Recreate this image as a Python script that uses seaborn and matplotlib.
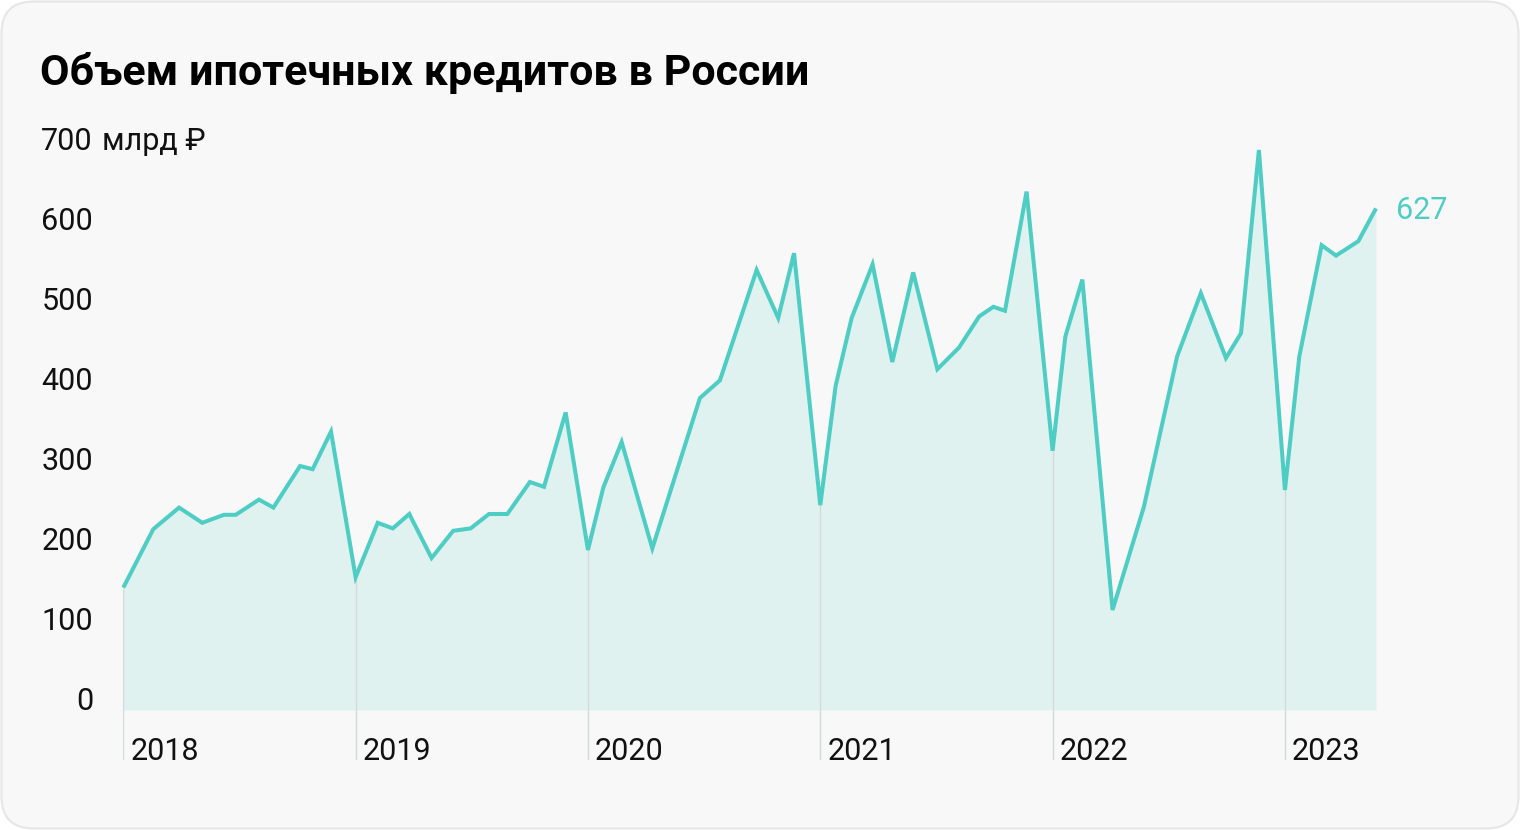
import matplotlib
matplotlib.use("Agg")
import matplotlib.pyplot as plt
from matplotlib.patches import FancyBboxPatch
from matplotlib.transforms import IdentityTransform
import seaborn as sns
import numpy as np

# ---- data ----
time_pos = [2018.000, 2018.129, 2018.240, 2018.340, 2018.433, 2018.484, 2018.584, 2018.646,
            2018.761, 2018.815, 2018.894, 2019.000, 2019.095, 2019.160, 2019.231, 2019.327,
            2019.420, 2019.495, 2019.574, 2019.653, 2019.750, 2019.811, 2019.904, 2020.000,
            2020.066, 2020.145, 2020.277, 2020.482, 2020.568, 2020.726, 2020.819, 2020.887,
            2021.000, 2021.066, 2021.135, 2021.225, 2021.310, 2021.400, 2021.504, 2021.597,
            2021.684, 2021.745, 2021.795, 2021.888, 2022.000, 2022.055, 2022.128, 2022.258,
            2022.393, 2022.536, 2022.638, 2022.746, 2022.811, 2022.888, 2023.000, 2023.062,
            2023.158, 2023.220, 2023.316, 2023.392]
volume = [153, 226, 253, 234, 244, 244, 263, 253, 305, 301, 348, 166, 234, 227, 245, 190,
          224, 227, 245, 245, 285, 279, 372, 200, 278, 335, 202, 390, 412, 550, 490, 571,
          256, 405, 490, 557, 435, 547, 426, 453, 492, 504, 499, 648, 324, 467, 538, 125,
          254, 442, 521, 440, 471, 700, 275, 442, 581, 568, 586, 627]
years = [2018, 2019, 2020, 2021, 2022, 2023]
y_ticks = [0, 100, 200, 300, 400, 500, 600, 700]
y_tick_labels = ["0", "100", "200", "300", "400", "500", "600", "700"]
y_unit = "млрд ₽"
title = "Объем ипотечных кредитов в России"
last_label = "627"

LINE = "#4ecdc4"
FILL = "#e0f2f0"
GRID = "#d3dada"

sns.set_theme(style="white")
plt.rcParams["font.family"] = ["Roboto", "DejaVu Sans"]

W, H, DPI = 1520, 830, 100
fig = plt.figure(figsize=(W / DPI, H / DPI), dpi=DPI, facecolor="white")

card = FancyBboxPatch((1.5, 1.5), W - 3, H - 3,
                      boxstyle="round,pad=0,rounding_size=32",
                      transform=IdentityTransform(), fc="#f8f8f8", ec="#e6e6e6", lw=1.5,
                      zorder=-10)
fig.patches.append(card)

left_px, right_px, top_px, bottom_px = 123.3, 1376.0, 150.0, 760.0
ax = fig.add_axes([left_px / W, 1 - bottom_px / H, (right_px - left_px) / W,
                   (bottom_px - top_px) / H])
ax.set_facecolor("none")
ax.set_zorder(5)

x = np.array(time_pos)
y = np.array(volume, dtype=float)

ax.fill_between(x, 0, y, color=FILL, lw=0, zorder=1)

y_bottom = -62.5
for yr in years:
    top = np.interp(yr, x, y)
    ax.plot([yr, yr], [y_bottom, top], color=GRID, lw=1.0, zorder=2, solid_capstyle="butt")
    ax.annotate(str(yr), xy=(yr, y_bottom), xytext=(7, 0), textcoords="offset pixels",
                ha="left", va="baseline", fontsize=22, color="#111111")

sns.lineplot(x=x, y=y, ax=ax, color=LINE, linewidth=2.9, zorder=3, sort=False)
for ln in ax.lines[-1:]:
    ln.set_solid_joinstyle("miter")
    ln.set_solid_capstyle("butt")
    ln.set_clip_on(False)

ax.annotate(last_label, xy=(x[-1], y[-1]), xytext=(20, -11), textcoords="offset pixels",
            ha="left", va="baseline", fontsize=22, color=LINE)

ax.set_xlim(2018.0, time_pos[-1])
ax.set_ylim(y_bottom, 700)
ax.set_yticks(y_ticks)
ax.set_yticklabels(y_tick_labels)
ax.set_xticks([])
ax.tick_params(axis="y", length=0, pad=(left_px - 93) * 72 / DPI, labelsize=22,
               labelcolor="#111111")
for lab in ax.get_yticklabels():
    lab.set_verticalalignment("baseline")
ax.annotate(y_unit, xy=(0, 700), xycoords=("axes fraction", "data"),
            xytext=(102 - left_px, 0), textcoords="offset pixels",
            ha="left", va="baseline", fontsize=22, color="#111111")
for s in ax.spines.values():
    s.set_visible(False)
ax.set_xlabel("")
ax.set_ylabel("")

fig.text(40 / W, 1 - 85 / H, title, ha="left", va="baseline", fontsize=31,
         fontweight="bold", color="#000000", family=["Roboto", "DejaVu Sans"])

fig.savefig("out.png", dpi=DPI, facecolor="white")
